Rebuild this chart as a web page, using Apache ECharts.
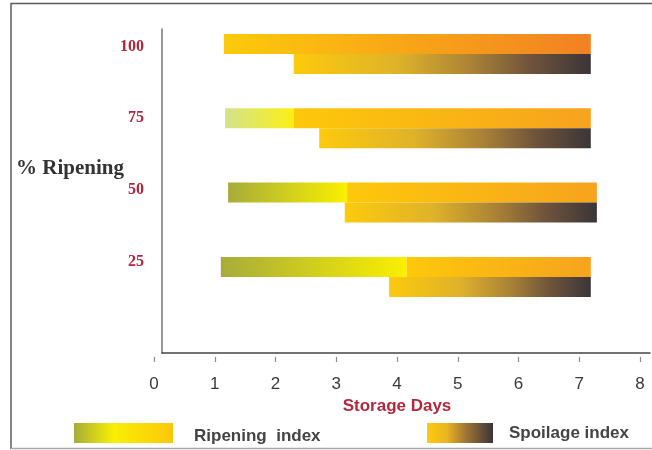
<!DOCTYPE html>
<html>
<head>
<meta charset="utf-8">
<script src="https://cdn.jsdelivr.net/npm/echarts@6/dist/echarts.min.js"></script>
<style>
  html, body { margin: 0; padding: 0; background: #ffffff; }
  #chart { width: 652px; height: 450px; }
</style>
</head>
<body>
<div id="chart"></div>
<script>
// Ripening stages (% ripening) on the vertical axis, bottom to top
const categories = ['25', '50', '75', '100'];

// Ripening index bars: start day, day where the colour turns to orange-yellow, end day
const ripStart = [1.10, 1.22, 1.17, 1.15];
const ripMid   = [4.16, 3.18, 2.30, 1.15];
const ripEnd   = [7.19, 7.29, 7.19, 7.19];

// Spoilage index bars: start day, end day
const spoStart = [3.87, 3.14, 2.72, 2.30];
const spoEnd   = [7.19, 7.29, 7.19, 7.19];

// Storage-day ticks
const dayTicks = [0, 1, 2, 3, 4, 5, 6, 7, 8];

const G = echarts.graphic;
const hGrad = (stops) => new G.LinearGradient(0, 0, 1, 0,
  stops.map((c, i) => typeof c === 'string' ? { offset: i / (stops.length - 1), color: c } : c));

// Fill for each row
const earlyFill = [
  hGrad(['#a7ac3a', '#faf000']),
  hGrad(['#a7ac3a', '#faf000']),
  hGrad(['#d3e28d', '#fcf014']),
  null
];
const lateFill = [
  hGrad(['#fdc80b', '#f7a31e']),
  hGrad(['#fdc80b', '#f7a31e']),
  hGrad(['#fdc80b', '#f7a31e']),
  hGrad(['#fdca0b', '#f28123'])
];
const spoilFill = () => hGrad([
  { offset: 0, color: '#fdca0c' },
  { offset: 0.35, color: '#dfb22a' },
  { offset: 0.6, color: '#aa8236' },
  { offset: 0.8, color: '#6e533b' },
  { offset: 1, color: '#3b3538' }
]);

const sub = (a, b) => a.map((v, i) => +(v - b[i]).toFixed(3));

const ripEarlyLen = sub(ripMid, ripStart);
const ripLateLen = sub(ripEnd, ripMid);
const spoLen = sub(spoEnd, spoStart);

const barW = 20;
const base = (name, stack, vals) => ({
  name, type: 'bar', stack, xAxisIndex: 0, yAxisIndex: 0,
  barWidth: barW, barGap: '0%', silent: true,
  itemStyle: { color: 'transparent' },
  data: vals
});

const barTop = 16.85, barHeight = 297.2;
const legendText = { fontFamily: 'Liberation Sans', fontWeight: 'bold', fontSize: 17, color: '#444444' };

const option = {
  animation: false,
  backgroundColor: '#ffffff',
  title: {
    text: '% Ripening',
    left: 16, top: 158, padding: 0,
    textStyle: { fontFamily: 'Liberation Serif', fontWeight: 'bold', fontSize: 21, color: '#333333' }
  },
  legend: [
    {
      left: 74, top: 423, padding: 0,
      itemWidth: 99, itemHeight: 20, selectedMode: false,
      formatter: '{t|{name}}',
      textStyle: { ...legendText, rich: { t: { ...legendText, padding: [6, 0, 0, 16] } } },
      data: [{ name: 'Ripening  index', icon: 'rect',
        itemStyle: { color: hGrad([{ offset: 0, color: '#a7ac3a' }, { offset: 0.4, color: '#f8ef04' }, { offset: 1, color: '#fec60a' }]) } }]
    },
    {
      left: 427, top: 423, padding: 0,
      itemWidth: 66, itemHeight: 20, selectedMode: false,
      formatter: '{t|{name}}',
      textStyle: { ...legendText, rich: { t: { ...legendText, padding: [0, 0, 0, 11] } } },
      data: [{ name: 'Spoilage index', icon: 'rect',
        itemStyle: { color: hGrad([{ offset: 0, color: '#fdca0c' }, { offset: 0.3, color: '#e9b520' }, { offset: 0.6, color: '#9c7336' }, { offset: 1, color: '#3b3538' }]) } }]
    }
  ],
  grid: [
    // bars
    { left: 154, width: 486, top: barTop, height: barHeight },
    // axis frame
    { left: 162, width: 488, top: 29, height: 324 },
    // stage labels
    { left: 154, width: 486, top: 10.65, height: 286.7 }
  ],
  xAxis: [
    {
      gridIndex: 0, type: 'value', min: 0, max: 8, interval: 1, offset: 357 - (barTop + barHeight),
      axisLine: { show: false },
      axisTick: { show: true, length: 5, lineStyle: { color: '#8a8a8a', width: 1.2 } },
      axisLabel: { margin: 19, fontFamily: 'Liberation Sans', fontSize: 17, color: '#3a3a3a',
        formatter: (v) => dayTicks.includes(v) ? String(v) : '' },
      splitLine: { show: false },
      name: 'Storage Days', nameLocation: 'middle', nameGap: 36,
      nameTextStyle: { fontFamily: 'Liberation Sans', fontWeight: 'bold', fontSize: 17, color: '#b2283e' }
    },
    {
      gridIndex: 1, type: 'value', min: 0, max: 1,
      axisLine: { show: true, onZero: false, lineStyle: { color: '#444444', width: 1.5 } },
      axisTick: { show: false }, axisLabel: { show: false }, splitLine: { show: false }
    },
    { gridIndex: 2, type: 'value', show: false, min: 0, max: 1 }
  ],
  yAxis: [
    { gridIndex: 0, type: 'category', data: categories, show: false },
    {
      gridIndex: 1, type: 'value', min: 0, max: 1,
      axisLine: { show: true, onZero: false, lineStyle: { color: '#777777', width: 1.5 } },
      axisTick: { show: false }, axisLabel: { show: false }, splitLine: { show: false }
    },
    {
      gridIndex: 2, type: 'category', data: categories,
      axisLine: { show: false }, axisTick: { show: false }, splitLine: { show: false },
      axisLabel: { margin: 10, fontFamily: 'Liberation Serif', fontWeight: 'bold', fontSize: 16, color: '#b2243c' }
    }
  ],
  graphic: [
    { type: 'line', shape: { x1: 11, y1: 3, x2: 11, y2: 449 }, style: { stroke: '#5a5a5a', lineWidth: 1.5 }, silent: true },
    { type: 'line', shape: { x1: 11, y1: 3.5, x2: 652, y2: 3.5 }, style: { stroke: '#5a5a5a', lineWidth: 1.5 }, silent: true },
    { type: 'line', shape: { x1: 11, y1: 448.5, x2: 652, y2: 448.5 }, style: { stroke: '#a8a8a8', lineWidth: 1.5 }, silent: true }
  ],
  series: [
    base('ripBase', 'rip', ripStart),
    {
      name: 'Ripening  index', type: 'bar', stack: 'rip', xAxisIndex: 0, yAxisIndex: 0,
      barWidth: barW, barGap: '0%',
      data: ripEarlyLen.map((v, i) => ({ value: v, itemStyle: { color: earlyFill[i] || 'transparent' } }))
    },
    {
      name: 'Ripening  index', type: 'bar', stack: 'rip', xAxisIndex: 0, yAxisIndex: 0,
      barWidth: barW, barGap: '0%',
      data: ripLateLen.map((v, i) => ({ value: v, itemStyle: { color: lateFill[i] } }))
    },
    base('spoBase', 'spo', spoStart),
    {
      name: 'Spoilage index', type: 'bar', stack: 'spo', xAxisIndex: 0, yAxisIndex: 0,
      barWidth: barW, barGap: '0%',
      data: spoLen.map((v) => ({ value: v, itemStyle: { color: spoilFill() } }))
    }
  ]
};

const chart = echarts.init(document.getElementById('chart'), null, { renderer: 'canvas' });
chart.setOption(option);
</script>
</body>
</html>
